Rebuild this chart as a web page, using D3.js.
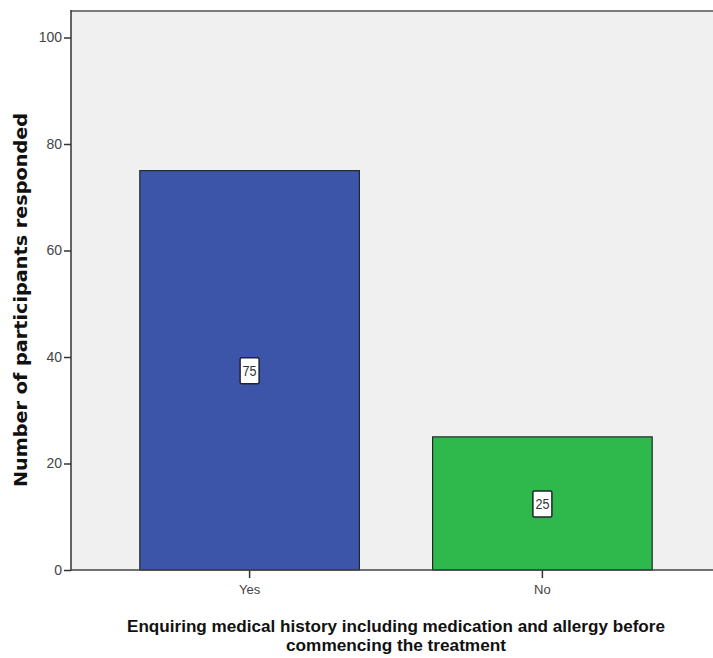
<!DOCTYPE html>
<html>
<head>
<meta charset="utf-8">
<script src="https://cdn.jsdelivr.net/npm/d3@7"></script>
<style>
  html, body { margin: 0; padding: 0; background: #ffffff; }
  svg { display: block; }
</style>
</head>
<body>
<svg id="chart" width="713" height="658"></svg>
<script>
// Responses to the question on enquiring medical history
const categories = ["Yes", "No"];
const counts = [75, 25];
const barColors = ["#3c55a9", "#2fb84b"];
const yTicks = [0, 20, 40, 60, 80, 100];
const xTitleLines = ["Enquiring medical history including medication and allergy before", "commencing the treatment"];
const yTitle = "Number of participants responded";

const W = 713, H = 658;
const plot = { left: 71, top: 10, right: 721, bottom: 570 };
const sans = "'Liberation Sans', Arial, sans-serif";

const svg = d3.select("#chart");

const x = d3.scaleBand()
  .domain(categories)
  .range([plot.left, plot.right])
  .paddingInner(0.25)
  .paddingOuter(0.235);

const y = d3.scaleLinear()
  .domain([0, 100])
  .range([plot.bottom, 37.5]);

// plot background
svg.append("rect")
  .attr("x", plot.left).attr("y", plot.top)
  .attr("width", W - plot.left).attr("height", plot.bottom - plot.top)
  .attr("fill", "#f0f0f0");

// top frame line
svg.append("line")
  .attr("x1", plot.left).attr("x2", W)
  .attr("y1", plot.top + 1).attr("y2", plot.top + 1)
  .attr("stroke", "#7a7a7a").attr("stroke-width", 2);

// bars
svg.append("g").selectAll("rect")
  .data(categories)
  .join("rect")
  .attr("x", d => x(d))
  .attr("y", (d, i) => y(counts[i]))
  .attr("width", x.bandwidth())
  .attr("height", (d, i) => y(0) - y(counts[i]))
  .attr("fill", (d, i) => barColors[i])
  .attr("stroke", "#1e2a2a")
  .attr("stroke-width", 1.2);

// value labels in boxes at the bar midpoints
const labels = svg.append("g").selectAll("g")
  .data(categories)
  .join("g")
  .attr("transform", (d, i) => `translate(${x(d) + x.bandwidth() / 2},${y(counts[i] / 2)})`);

labels.append("rect")
  .attr("x", -9.5).attr("y", -12.5)
  .attr("width", 19).attr("height", 26)
  .attr("rx", 1.5)
  .attr("fill", "#ffffff")
  .attr("stroke", "#1e2430")
  .attr("stroke-width", 1.5);

labels.append("text")
  .attr("text-anchor", "middle")
  .attr("dy", "0.36em")
  .attr("font-family", sans)
  .attr("font-size", 15)
  .attr("fill", "#333")
  .attr("textLength", 14)
  .attr("lengthAdjust", "spacingAndGlyphs")
  .text((d, i) => counts[i]);

// y axis
const yAxis = svg.append("g")
  .attr("transform", `translate(${plot.left},0)`)
  .call(d3.axisLeft(y).tickValues(yTicks).tickSize(7).tickPadding(2));
yAxis.select(".domain").remove();
yAxis.selectAll(".tick line").attr("stroke", "#333").attr("stroke-width", 1.5);
yAxis.selectAll(".tick text")
  .attr("font-family", sans)
  .attr("font-size", 14)
  .attr("fill", "#444");

svg.append("line")
  .attr("x1", plot.left).attr("x2", plot.left)
  .attr("y1", plot.top).attr("y2", plot.bottom + 1)
  .attr("stroke", "#333").attr("stroke-width", 1.5);

// x axis
const xAxis = svg.append("g")
  .attr("transform", `translate(0,${plot.bottom})`)
  .call(d3.axisBottom(x).tickSize(8).tickPadding(7));
xAxis.select(".domain").remove();
xAxis.selectAll(".tick line").attr("stroke", "#333").attr("stroke-width", 1.5);
xAxis.selectAll(".tick text")
  .attr("font-family", sans)
  .attr("font-size", 13)
  .attr("fill", "#444");

svg.append("line")
  .attr("x1", plot.left).attr("x2", W)
  .attr("y1", plot.bottom).attr("y2", plot.bottom)
  .attr("stroke", "#444").attr("stroke-width", 1.5);

// axis titles
svg.append("text")
  .attr("transform", `translate(27,300) rotate(-90)`)
  .attr("text-anchor", "middle")
  .attr("font-family", "'DejaVu Sans', Verdana, sans-serif")
  .attr("font-weight", "bold")
  .attr("font-size", 17)
  .attr("textLength", 374)
  .attr("lengthAdjust", "spacingAndGlyphs")
  .attr("fill", "#111")
  .text(yTitle);

const xTitleWidths = [538, 220];
svg.append("text")
  .attr("text-anchor", "middle")
  .attr("font-family", sans)
  .attr("font-weight", "bold")
  .attr("font-size", 17)
  .attr("fill", "#111")
  .selectAll("tspan")
  .data(xTitleLines)
  .join("tspan")
  .attr("x", 396)
  .attr("y", (d, i) => 632 + i * 19)
  .attr("textLength", (d, i) => xTitleWidths[i])
  .attr("lengthAdjust", "spacingAndGlyphs")
  .text(d => d);
</script>
</body>
</html>
